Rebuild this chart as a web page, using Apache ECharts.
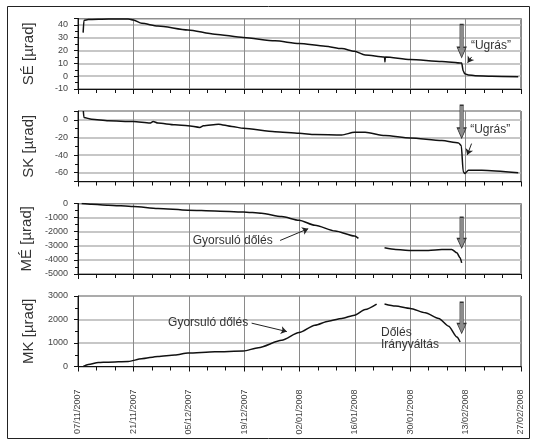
<!DOCTYPE html>
<html><head><meta charset="utf-8">
<script src="https://cdn.jsdelivr.net/npm/echarts@6/dist/echarts.min.js"></script>
<style>html,body{margin:0;padding:0;background:#fff}#c{width:534px;height:443px}</style>
</head><body><div id="c"></div>
<script>
// x values are days since 07/11/2007
const xTickLabels = ['07/11/2007','21/11/2007','05/12/2007','19/12/2007','02/01/2008','16/01/2008','30/01/2008','13/02/2008','27/02/2008'];
const panelNames = ['SÉ [µrad]','SK [µrad]','MÉ [µrad]','MK [µrad]'];

const seDays = [1.3,1.5,2.6,7.7,12.7,14.0,16.1,20.2,27.8,34.6,41.8,49.8,55.9,62.5,66.7,69.9,72.6,77.5,77.6,77.7,84.0,92.0,97.0,97.4,97.8,98.7,100.4,104.6,111.3];
const seVals = [34,43.5,44.2,44.6,44.6,43.8,41.2,39.1,36,32.8,30.2,27.6,25.5,23.4,21.5,19.4,16.5,15,11,15,13.1,11.5,10.2,4,1.8,1,0.3,0,-0.5];

const skDays = [1.35,1.5,3.46,7.67,14.0,18.2,19.0,20.2,24.5,27.8,30.8,31.7,35.5,38.9,41.8,49.8,55.9,59.9,66.7,69.9,72.6,77.6,84.0,92.0,96.2,96.9,97.4,97.8,98.7,102.1,111.3];
const skVals = [10,2.6,0.7,-1.1,-1.9,-3.7,-1.9,-3.7,-5.6,-6.7,-8.6,-6.7,-4.9,-7.5,-9.7,-13.5,-15.3,-16.8,-17.2,-14.2,-14.2,-17.9,-20.6,-23.6,-26.2,-29.2,-59,-61,-57.2,-57.2,-60.2];

const meDays = [0.93,3.46,7.67,14.0,20.2,27.8,34.6,41.8,46.4,51.5,55.9,59.9,65.0,69.9,70.9,74,77.5,80.3,84.0,88.6,92.0,94.5,95.8,96.6,97.0];
const meVals = [0,-50,-120,-215,-357,-476,-524,-595,-690,-928,-1190,-1547,-1952,-2310,-2475,null,-3140,-3260,-3330,-3330,-3260,-3260,-3500,-3855,-4210];

const mkDays = [1.35,2.61,5.14,7.67,12.7,16.1,20.2,24.5,27.8,34.6,41.8,45.6,51.5,55.9,59.9,63.3,66.7,69.9,72.6,75.5,76.5,77.5,80.3,84.0,87.8,91.2,93.7,95.8,96.6];
const mkVals = [0,86,171,186,214,329,429,486,571,629,657,800,1114,1443,1757,1929,2043,2186,2429,2657,null,2657,2571,2471,2286,2043,1714,1257,1043];

const FONT = '"Liberation Sans", Arial, sans-serif';
const zip = (a, b) => a.map((d, i) => [d, b[i]]);
const tops = [18.5, 111, 203.5, 296];
const H = 70.5;

const grids = tops.map(t => ({left: 78, right: 13, top: t, height: H, show: true, borderColor: '#222', borderWidth: 1, containLabel: false}));

const xAxes = tops.map((t, i) => ({
  type: 'value', gridIndex: i, min: 0, max: 112, interval: 14,
  axisLine: {show: true, onZero: false, lineStyle: {color: '#111', width: 1}},
  axisTick: {show: true, length: 5, inside: false, lineStyle: {color: '#111'}},
  minorTick: {show: true, splitNumber: 3, length: 4, lineStyle: {color: '#111'}},
  splitLine: {show: true, lineStyle: {color: '#8a8a8a', width: 1}},
  axisLabel: {
    show: i === 3, rotate: 90, margin: 23, fontSize: 9, color: '#444', fontFamily: FONT,
    formatter: v => xTickLabels[Math.round(v / 14)] || ''
  }
}));

const yLabel = extra => Object.assign({fontSize: 9, color: '#444', margin: 10, fontFamily: FONT, formatter: v => String(v)}, extra || {});

const yBase = (i, extra) => Object.assign({
  type: 'value', gridIndex: i,
  name: panelNames[i], nameLocation: 'middle', nameGap: 42, nameRotate: 90,
  nameTextStyle: {fontSize: 15, color: '#333', fontFamily: FONT},
  axisLine: {show: true, onZero: false, lineStyle: {color: '#111', width: 1}},
  axisTick: {show: true, length: 4, lineStyle: {color: '#111'}},
  minorTick: {show: true, splitNumber: 2, length: 3, lineStyle: {color: '#111'}},
  splitLine: {show: true, lineStyle: {color: '#b5b5b5', width: 1.5}},
  axisLabel: yLabel()
}, extra);

const yAxes = [
  yBase(0, {min: -10, max: 45, splitNumber: 5, axisLabel: yLabel({showMaxLabel: false})}),
  yBase(1, {min: -70, max: 10, splitNumber: 4, axisLabel: yLabel({showMaxLabel: false, showMinLabel: false})}),
  yBase(2, {min: -5000, max: 0, interval: 1000}),
  yBase(3, {min: 0, max: 3000, interval: 1000})
];

const ARROW = 'path://M3,0L7,0L7,22L10,22L5,32L0,22L3,22Z';
const arrowPt = (x, y, h) => ({coord: [x, y], symbol: ARROW, symbolSize: [9, h],
  itemStyle: {color: '#8c8c8c', borderColor: '#333', borderWidth: 0.8}, label: {show: false}});
const textPt = (x, y, txt, align) => ({coord: [x, y], symbol: 'rect', symbolSize: 1,
  itemStyle: {color: 'rgba(0,0,0,0)'},
  label: {show: true, position: 'inside', formatter: txt, align: align || 'center', verticalAlign: 'middle',
    fontSize: 12, color: '#333', fontFamily: FONT}});
const pointer = (x1, y1, x2, y2) => [{coord: [x1, y1]}, {coord: [x2, y2]}];
const mlBase = data => ({silent: true, symbol: ['none', 'arrow'], symbolSize: 6, label: {show: false},
  lineStyle: {color: '#222', width: 1, type: 'solid'}, data: data});

const lineSeries = (i, data, mp, ml) => ({
  type: 'line', xAxisIndex: i, yAxisIndex: i, data: data, showSymbol: false, symbol: 'none',
  smooth: 0.25, smoothMonotone: 'x', connectNulls: false,
  lineStyle: {color: '#111', width: 1.5}, animation: false,
  markPoint: {silent: true, animation: false, data: mp},
  markLine: Object.assign(mlBase(ml), {animation: false})
});

const series = [
  lineSeries(0, zip(seDays, seVals),
    [arrowPt(97, 27.4, 33), textPt(104.4, 24.1, '\u201cUgrás\u201d')],
    [pointer(99.5, 15, 98.5, 10.5)]),
  lineSeries(1, zip(skDays, skVals),
    [arrowPt(97, -2.2, 33), textPt(104.2, -11.2, '\u201cUgrás\u201d')],
    [pointer(99.5, -27, 98.4, -40)]),
  lineSeries(2, zip(meDays, meVals),
    [arrowPt(97, -2070, 31), textPt(39.1, -2621, 'Gyorsuló dőlés')],
    [pointer(51.1, -2621, 58.2, -1786)]),
  lineSeries(3, zip(mkDays, mkVals),
    [arrowPt(97, 2073, 31), textPt(32.9, 1870, 'Gyorsuló dőlés'),
     textPt(76.6, 1430, 'Dőlés', 'left'), textPt(76.6, 918, 'Irányváltás', 'left')],
    [pointer(43.9, 1845, 52.8, 1486)])
];

const chart = echarts.init(document.getElementById('c'), null, {renderer: 'canvas'});
chart.setOption({
  animation: false,
  backgroundColor: '#fff',
  textStyle: {fontFamily: FONT},
  grid: grids, xAxis: xAxes, yAxis: yAxes, series: series,
  graphic: [{type: 'rect', shape: {x: 7.5, y: 6.5, width: 522, height: 432}, style: {fill: 'none', stroke: '#222', lineWidth: 1}, silent: true}]
});
</script></body></html>
